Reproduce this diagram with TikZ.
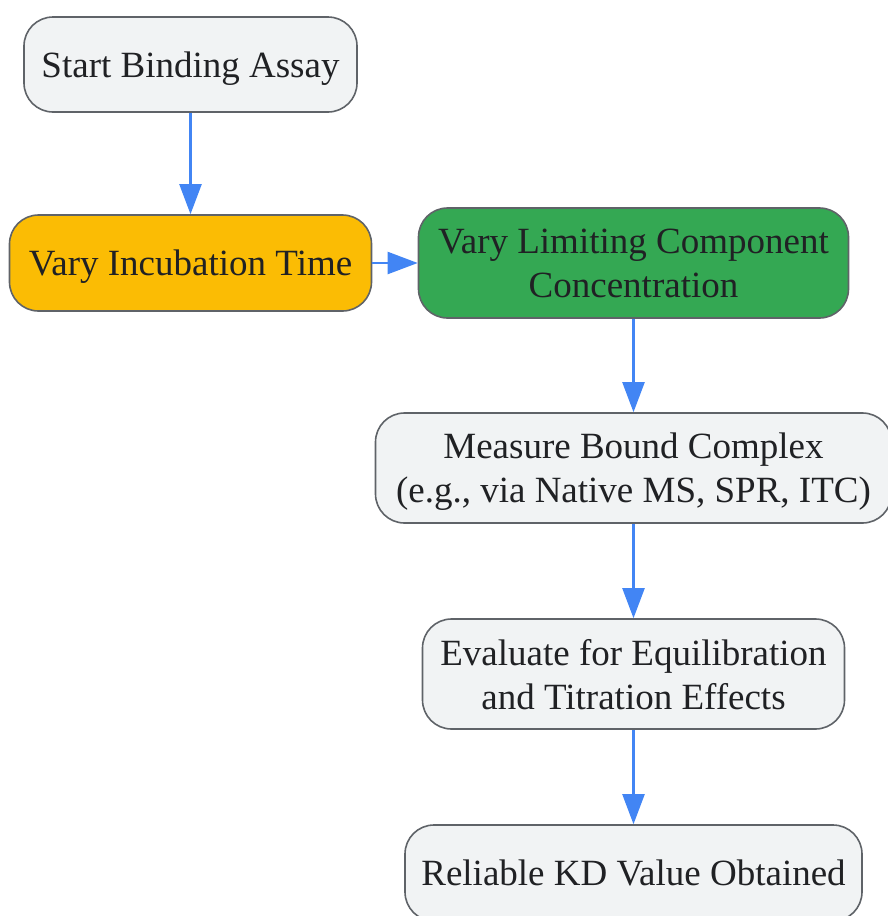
\documentclass[tikz,border=0pt]{standalone}
\usepackage{fontspec}
\setmainfont{Liberation Serif}
\usetikzlibrary{arrows.meta}
\definecolor{boxgray}{HTML}{F1F3F4}
\definecolor{edgegray}{HTML}{5F6368}
\definecolor{amber}{HTML}{FBBC04}
\definecolor{leaf}{HTML}{34A853}
\definecolor{flowblue}{HTML}{4285F4}
\definecolor{ink}{HTML}{202124}
\tikzstyle{step box}=[rectangle,rounded corners=29pt,draw=edgegray,line width=1.6pt,fill=boxgray,text=ink,align=center,inner sep=0pt,text depth=0pt,font=\fontsize{37}{44}\selectfont]
\tikzstyle{time box}=[step box,fill=amber]
\tikzstyle{conc box}=[step box,fill=leaf]
\tikzstyle{flow}=[draw=flowblue,line width=2.2pt,-{Triangle[length=30pt,width=22pt]}]

\begin{document}
\begin{tikzpicture}[x=1pt,y=-1pt]
			\useasboundingbox (0,0) rectangle (887,916);
			\node (start) at (190.5,64.5) [step box,minimum width=333pt,minimum height=95pt] {Start Binding Assay};
			\node (incub) at (190.5,263) [time box,minimum width=362pt,minimum height=96pt] {Vary Incubation Time};
			\node (lim) at (633.5,263) [conc box,minimum width=430pt,minimum height=110pt] {Vary Limiting Component\\Concentration};
			\node (meas) at (633.5,468) [step box,minimum width=516pt,minimum height=110pt] {Measure Bound Complex\\(e.g., via Native MS, SPR, ITC)};
			\node (eval) at (633.5,674) [step box,minimum width=422pt,minimum height=110pt] {Evaluate for Equilibration\\and Titration Effects};
			\node (kd) at (633.5,873) [step box,minimum width=457pt,minimum height=96pt] {Reliable KD Value Obtained};
			
			\foreach \a/\b in {start/incub,incub/lim,lim/meas,meas/eval,eval/kd}
			\draw[flow] (\a)--(\b);
		\end{tikzpicture}
\end{document}
